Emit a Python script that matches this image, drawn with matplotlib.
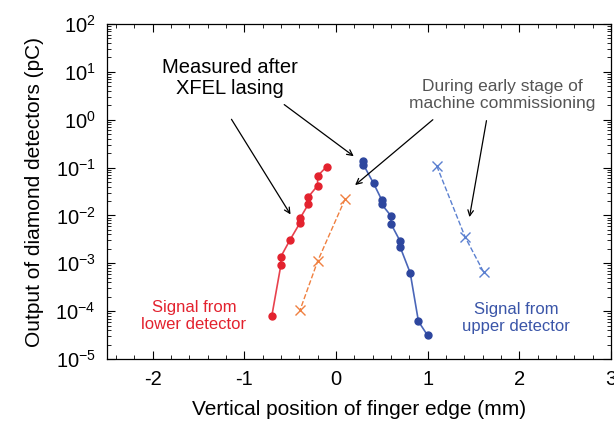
import matplotlib
matplotlib.use("Agg")
import matplotlib.pyplot as plt
from matplotlib.ticker import MultipleLocator, LogLocator

plt.rcParams['font.family'] = ['Liberation Sans', 'DejaVu Sans']
plt.rcParams['mathtext.fontset'] = 'custom'
plt.rcParams['mathtext.rm'] = 'Liberation Sans'
plt.rcParams['mathtext.it'] = 'Liberation Sans:italic'
plt.rcParams['mathtext.bf'] = 'Liberation Sans:bold'
plt.rcParams['axes.unicode_minus'] = False

# Data
red_x = [-0.10, -0.20, -0.20, -0.30, -0.30, -0.39, -0.39, -0.50, -0.60, -0.60, -0.70]
red_y = [0.105, 0.067, 0.042, 0.0245, 0.0173, 0.0088, 0.0071, 0.0031, 0.00138, 0.00093, 7.8e-5]

orange_x = [0.10, -0.20, -0.39]
orange_y = [0.022, 0.0011, 1.07e-4]

blue_x = [0.30, 0.30, 0.41, 0.50, 0.50, 0.60, 0.60, 0.70, 0.70, 0.81, 0.90, 1.00]
blue_y = [0.135, 0.115, 0.047, 0.021, 0.017, 0.0098, 0.0067, 0.0029, 0.0022, 6.3e-4, 6.1e-5, 3.1e-5]

lblue_x = [1.10, 1.41, 1.61]
lblue_y = [0.108, 0.0035, 6.6e-4]

x_ticks = [-2, -1, 0, 1, 2, 3]

fig = plt.figure(figsize=(6.14, 4.22), dpi=100)
ax = fig.add_axes([0.1738, 0.1493, 0.8213, 0.7938])

ax.plot(red_x, red_y, '-', color='#e8414d', lw=1.2, marker='o', ms=5,
        mfc='#e3222e', mec='#e3222e', zorder=3)
ax.plot(orange_x, orange_y, '--', color='#f08040', lw=1.0, marker='x', ms=6.5,
        mew=1.0, zorder=3)
ax.plot(blue_x, blue_y, '-', color='#4a66b8', lw=1.2, marker='o', ms=5,
        mfc='#2d469e', mec='#2d469e', zorder=3)
ax.plot(lblue_x, lblue_y, '--', color='#5b80d0', lw=1.0, marker='x', ms=6.5,
        mew=1.0, zorder=3)

ax.set_yscale('log')
ax.set_xlim(-2.5, 3)
ax.set_ylim(1e-5, 1e2)
ax.set_xticks(x_ticks)
ax.xaxis.set_minor_locator(MultipleLocator(0.2))
ax.yaxis.set_major_locator(LogLocator(base=10, numticks=20))
ax.yaxis.set_minor_locator(LogLocator(base=10, subs=range(2, 10), numticks=20))
ax.tick_params(which='both', direction='in', top=True, right=True, labelsize=14.5)
ax.tick_params(which='major', length=6, width=0.8)
ax.tick_params(which='minor', length=3, width=0.6)
ax.tick_params(axis='x', pad=8)
ax.tick_params(axis='y', pad=8)
for s in ax.spines.values():
    s.set_linewidth(0.9)

ax.set_xlabel('Vertical position of finger edge (mm)', fontsize=15, labelpad=8)
ax.set_ylabel('Output of diamond detectors (pC)', fontsize=15, labelpad=8)

def fx(px):
    return -2.5 + (px - 106.7) / 91.7

def fy(py):
    return 10 ** (2 - (py - 24) / 47.9)

ax.text(fx(230), fy(78), 'Measured after\nXFEL lasing', ha='center', va='center',
        fontsize=14.5, color='black', linespacing=1.15)
ax.annotate('', xy=(fx(292), fy(217)), xytext=(fx(230), fy(117)),
            arrowprops=dict(arrowstyle='->', lw=0.9, color='black'))
ax.annotate('', xy=(fx(356), fy(158)), xytext=(fx(282), fy(103)),
            arrowprops=dict(arrowstyle='->', lw=0.9, color='black'))

ax.text(fx(502), fy(95), 'During early stage of\nmachine commissioning', ha='center',
        va='center', fontsize=12.5, color='#555555', linespacing=1.15)
ax.annotate('', xy=(fx(353), fy(187)), xytext=(fx(435), fy(118)),
            arrowprops=dict(arrowstyle='->', lw=0.9, color='black'))
ax.annotate('', xy=(fx(469), fy(220)), xytext=(fx(487), fy(118)),
            arrowprops=dict(arrowstyle='->', lw=0.9, color='black'))

ax.text(fx(194), fy(316), 'Signal from\nlower detector', ha='center', va='center',
        fontsize=12, color='#e3222e', linespacing=1.15)
ax.text(fx(516), fy(318), 'Signal from\nupper detector', ha='center', va='center',
        fontsize=12, color='#3a55a8', linespacing=1.15)

fig.savefig('out.png', dpi=100)
